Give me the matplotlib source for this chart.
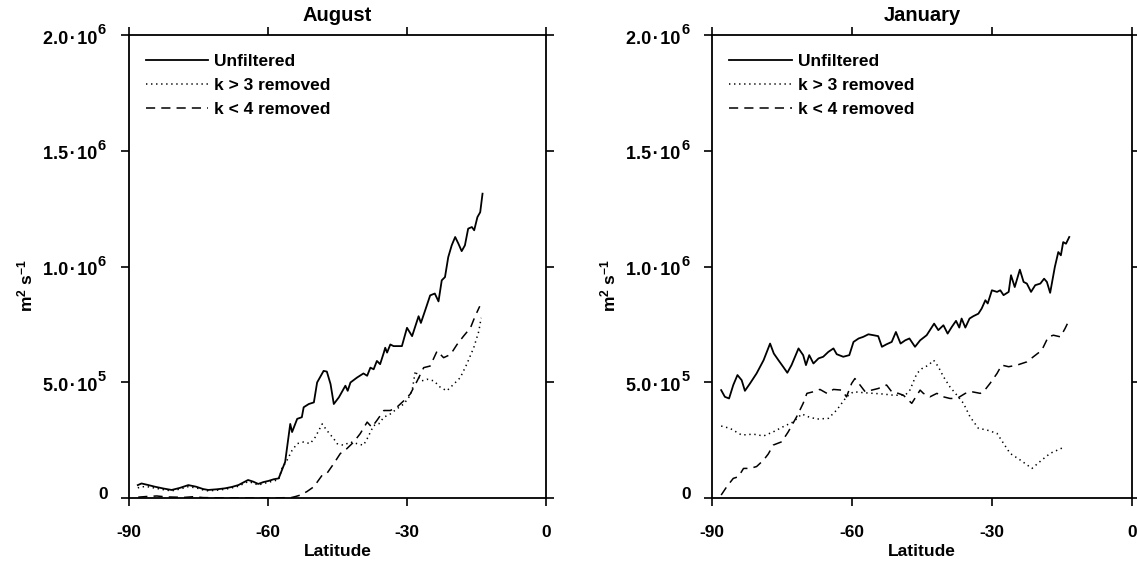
import matplotlib
matplotlib.use("Agg")
import matplotlib.pyplot as plt
from matplotlib.transforms import ScaledTranslation, blended_transform_factory

plt.rcParams['font.family'] = ['Liberation Sans', 'DejaVu Sans']
plt.rcParams['mathtext.fontset'] = 'custom'
plt.rcParams['mathtext.rm'] = 'Liberation Sans:bold'
plt.rcParams['mathtext.default'] = 'rm'

# ---------------- August ----------------
aug_unf_lat = [-88.1, -87.3, -86.0, -84.4, -82.5, -80.8, -79.0, -77.2, -75.5, -74.0,
               -72.9, -71.0, -69.3, -67.8, -66.4, -64.3, -63.2, -62.1, -61.0, -59.9,
               -58.8, -57.7, -56.3, -55.2, -54.8, -53.7, -52.7, -52.3, -51.2, -50.1,
               -49.4, -48.0, -47.3, -46.5, -45.8, -44.7, -43.3, -42.8, -42.2, -40.8,
               -39.4, -38.6, -37.9, -37.2, -36.5, -35.8, -35.0, -34.7, -34.3, -33.6,
               -32.9, -31.1, -30.0, -28.9, -28.2, -27.5, -27.0, -26.0, -25.0, -24.0,
               -23.2, -22.5, -21.8, -21.1, -20.35, -19.6, -18.9, -18.2, -17.5, -16.8,
               -16.0, -15.5, -14.8, -14.2, -13.7]
aug_unf_val = [57e3, 64e3, 58e3, 50e3, 42e3, 36e3, 45e3, 57e3, 50e3, 40e3,
               36e3, 39e3, 43e3, 49e3, 57e3, 79e3, 72e3, 62e3, 70e3, 75e3,
               82e3, 86e3, 157e3, 321e3, 286e3, 343e3, 350e3, 393e3, 407e3, 414e3,
               500e3, 550e3, 547e3, 493e3, 407e3, 436e3, 486e3, 464e3, 500e3, 521e3,
               539e3, 529e3, 564e3, 557e3, 593e3, 579e3, 629e3, 650e3, 629e3, 664e3,
               657e3, 657e3, 736e3, 700e3, 743e3, 786e3, 757e3, 816e3, 876e3, 884e3,
               850e3, 941e3, 955e3, 1041e3, 1092e3, 1128e3, 1099e3, 1067e3, 1092e3, 1164e3,
               1171e3, 1157e3, 1214e3, 1235e3, 1315e3]

aug_k3_lat = [-88.1, -87.3, -86.0, -84.4, -82.5, -80.8, -79.0, -77.2, -75.5, -74.0,
              -72.9, -71.0, -69.3, -67.8, -66.4, -64.3, -63.2, -62.1, -61.0, -59.9,
              -58.8, -57.7, -57.0, -55.9, -54.8, -53.7, -52.3, -50.9, -49.8, -48.3,
              -47.3, -45.8, -45.1, -43.7, -42.2, -40.8, -39.4, -38.6, -37.2, -36.1,
              -35.0, -33.6, -32.2, -30.7, -29.6, -28.9, -28.2, -27.5, -26.8, -25.7,
              -24.2, -22.8, -21.4, -19.9, -18.5, -17.1, -15.6, -14.5, -14.0]
aug_k3_val = [45e3, 50e3, 50e3, 44e3, 37e3, 32e3, 40e3, 50e3, 45e3, 36e3,
              32e3, 35e3, 39e3, 45e3, 52e3, 72e3, 66e3, 57e3, 64e3, 69e3,
              75e3, 80e3, 129e3, 164e3, 207e3, 236e3, 243e3, 236e3, 264e3, 321e3,
              293e3, 257e3, 236e3, 229e3, 243e3, 236e3, 229e3, 257e3, 314e3, 321e3,
              350e3, 364e3, 386e3, 407e3, 436e3, 464e3, 550e3, 521e3, 507e3, 514e3,
              507e3, 479e3, 464e3, 493e3, 521e3, 579e3, 650e3, 721e3, 779e3]

aug_k4_lat = [-88.0, -86.0, -84.0, -82.0, -80.0, -78.0, -76.0, -74.0, -70.0, -66.0,
              -62.0, -58.0, -55.0, -54.0, -53.0, -51.6, -50.1, -48.3, -47.3, -45.8,
              -44.4, -43.0, -41.5, -40.1, -38.6, -37.6, -36.5, -35.0, -33.6, -32.2,
              -30.7, -29.3, -27.8, -26.4, -25.0, -23.5, -22.1, -20.6, -19.2, -17.8,
              -16.3, -15.3, -14.3]
aug_k4_val = [5e3, 8e3, 10e3, 6e3, 5e3, 4e3, 7e3, 3e3, 2e3, 2e3,
              1e3, 2e3, 3e3, 8e3, 14e3, 29e3, 50e3, 100e3, 107e3, 150e3,
              193e3, 214e3, 243e3, 279e3, 329e3, 307e3, 336e3, 379e3, 379e3, 393e3,
              421e3, 450e3, 507e3, 564e3, 571e3, 636e3, 607e3, 621e3, 664e3, 700e3,
              736e3, 786e3, 829e3]

# ---------------- January ----------------
jan_unf_lat = [-88.1, -87.3, -86.4, -85.5, -84.6, -83.7, -83.0, -81.9, -80.5, -79.0,
               -77.6, -76.8, -75.8, -74.8, -73.9, -73.0, -71.5, -70.5, -69.9, -69.2,
               -68.3, -67.2, -66.2, -65.1, -64.0, -63.3, -61.9, -60.6, -59.7, -58.6,
               -57.6, -56.5, -55.4, -54.4, -53.6, -52.6, -51.5, -50.6, -49.6, -48.6,
               -47.7, -46.5, -45.4, -44.0, -42.4, -41.5, -40.4, -39.5, -38.6, -37.7,
               -37.0, -36.5, -35.7, -34.8, -34.0, -32.9, -32.2, -31.4, -30.9, -30.0,
               -28.9, -28.2, -27.5, -26.4, -25.9, -25.1, -24.0, -23.2, -22.5, -21.6,
               -20.7, -19.6, -18.8, -18.2, -17.5, -16.5, -15.75, -15.2, -14.7, -14.1,
               -13.4]
jan_unf_val = [467e3, 438e3, 431e3, 489e3, 532e3, 510e3, 464e3, 496e3, 539e3, 596e3,
               668e3, 625e3, 596e3, 568e3, 542e3, 575e3, 647e3, 618e3, 575e3, 618e3,
               582e3, 604e3, 611e3, 632e3, 647e3, 622e3, 611e3, 618e3, 675e3, 690e3,
               697e3, 708e3, 704e3, 700e3, 654e3, 665e3, 675e3, 718e3, 668e3, 682e3,
               690e3, 654e3, 682e3, 704e3, 754e3, 726e3, 747e3, 711e3, 740e3, 766e3,
               737e3, 776e3, 737e3, 776e3, 786e3, 797e3, 819e3, 855e3, 841e3, 898e3,
               891e3, 898e3, 877e3, 891e3, 963e3, 912e3, 987e3, 934e3, 927e3, 891e3,
               920e3, 927e3, 948e3, 934e3, 887e3, 998e3, 1063e3, 1049e3, 1106e3, 1099e3,
               1128e3]

jan_k3_lat = [-88.1, -86.2, -83.7, -81.2, -79.0, -76.9, -74.8, -72.6, -70.8, -69.4,
              -67.6, -65.1, -63.3, -61.2, -59.7, -57.6, -55.4, -53.3, -51.1, -48.6,
              -47.6, -46.1, -45.0, -43.6, -42.5, -41.5, -40.4, -39.0, -37.5, -36.1,
              -34.7, -32.9, -31.1, -28.9, -27.5, -26.1, -23.9, -21.4, -19.3, -17.5,
              -14.6]
jan_k3_val = [312e3, 302e3, 273e3, 277e3, 269e3, 287e3, 309e3, 330e3, 364e3, 352e3,
              342e3, 345e3, 381e3, 438e3, 460e3, 456e3, 453e3, 450e3, 445e3, 445e3,
              467e3, 539e3, 560e3, 575e3, 596e3, 568e3, 525e3, 481e3, 445e3, 410e3,
              352e3, 302e3, 295e3, 280e3, 237e3, 194e3, 165e3, 129e3, 165e3, 194e3,
              220e3]

jan_k4_lat = [-88.1, -86.9, -85.5, -84.4, -83.3, -81.9, -80.5, -79.0, -78.0, -76.9,
              -75.1, -73.7, -71.9, -70.5, -69.7, -68.3, -66.9, -65.4, -64.0, -62.2,
              -61.2, -60.1, -59.4, -58.3, -57.2, -55.8, -54.4, -52.6, -51.5, -50.1,
              -49.0, -47.2, -45.4, -44.7, -43.3, -41.8, -40.4, -39.0, -37.5, -35.7,
              -34.3, -32.5, -31.8, -30.4, -28.9, -27.9, -26.4, -24.6, -22.5, -21.1,
              -19.3, -17.9, -16.8, -15.3, -14.3, -13.6]
jan_k4_val = [14e3, 50e3, 86e3, 93e3, 129e3, 129e3, 137e3, 165e3, 191e3, 230e3,
              244e3, 287e3, 352e3, 410e3, 453e3, 460e3, 470e3, 453e3, 470e3, 467e3,
              438e3, 496e3, 517e3, 489e3, 460e3, 467e3, 474e3, 489e3, 460e3, 453e3,
              445e3, 410e3, 467e3, 453e3, 438e3, 453e3, 438e3, 431e3, 431e3, 453e3,
              460e3, 453e3, 460e3, 496e3, 539e3, 575e3, 568e3, 575e3, 589e3, 611e3,
              639e3, 697e3, 704e3, 697e3, 733e3, 762e3]

panel_titles = ["August", "January"]
series_labels = ["Unfiltered", "k > 3 removed", "k < 4 removed"]
x_ticks = [-90, -60, -30, 0]
x_ticklabels = ["-90", "-60", "-30", "0"]
y_ticks = [0, 5e5, 1e6, 1.5e6, 2e6]
y_mantissas = ["0", "5.0", "1.0", "1.5", "2.0"]
y_exponents = [None, "5", "6", "6", "6"]

panels = [
    (aug_unf_lat, aug_unf_val, aug_k3_lat, aug_k3_val, aug_k4_lat, aug_k4_val),
    (jan_unf_lat, jan_unf_val, jan_k3_lat, jan_k3_val, jan_k4_lat, jan_k4_val),
]

W, H = 1137, 572
fig = plt.figure(figsize=(W / 100, H / 100), dpi=100)
ax_rects = [
    [129 / W, 1 - 498.3 / H, (546 - 129) / W, (498.3 - 35) / H],
    [712.3 / W, 1 - 498.3 / H, (1131.7 - 712.3) / W, (498.3 - 35) / H],
]

FS = 12.5
PX = 0.72  # points per pixel at 100 dpi


def y_tick_text(ax, value, mantissa, exponent):
    """Write a 'm.m·10^e' tick label to the left of the y axis."""
    base = blended_transform_factory(ax.transAxes, ax.transData)
    if exponent is None:
        tr = base + ScaledTranslation(-21 * PX / 72, 4 * PX / 72, fig.dpi_scale_trans)
        ax.text(0, value, mantissa, transform=tr, ha="right", va="center",
                fontsize=FS, fontweight="bold", clip_on=False)
        return
    tr_m = base + ScaledTranslation(-32 * PX / 72, -4 * PX / 72, fig.dpi_scale_trans)
    ax.text(0, value, mantissa + "\u200a·\u200a10", transform=tr_m, ha="right",
            va="center", fontsize=FS + 0.5, fontweight="bold", clip_on=False)
    tr_e = base + ScaledTranslation(-31 * PX / 72, 5 * PX / 72, fig.dpi_scale_trans)
    ax.text(0, value, exponent, transform=tr_e, ha="left", va="center",
            fontsize=10.5, fontweight="bold", clip_on=False)


for rect, title, data in zip(ax_rects, panel_titles, panels):
    ax = fig.add_axes(rect)
    ulat, uval, k3lat, k3val, k4lat, k4val = data
    ax.plot(ulat, uval, color="black", lw=1.3, label=series_labels[0])
    ax.plot(k3lat, k3val, color="black", lw=1.1, linestyle=(0, (0.9, 2.4)),
            label=series_labels[1])
    ax.plot(k4lat, k4val, color="black", lw=1.1, linestyle=(0, (6.0, 4.0)),
            label=series_labels[2])

    ax.set_xlim(-90, 0)
    ax.set_ylim(0, 2e6)
    ax.set_xticks(x_ticks)
    ax.set_xticklabels(x_ticklabels, fontsize=FS, fontweight="bold")
    ax.set_yticks(y_ticks)
    ax.set_yticklabels([])
    for v, m, e in zip(y_ticks, y_mantissas, y_exponents):
        y_tick_text(ax, v, m, e)
    ax.tick_params(direction="out", length=6, width=1.2, top=True, right=True,
                   color="black")
    ax.tick_params(axis="x", pad=13)
    for sp in ax.spines.values():
        sp.set_linewidth(1.3)

    ax.set_title(title, fontsize=14.5, fontweight="bold", y=1.0, pad=10)
    ax.set_xlabel("Latitude", fontsize=FS, fontweight="bold", labelpad=3)
    ax.set_ylabel(r"m$^{2}$ s$^{-1}$", fontsize=FS, fontweight="bold")
    ax.yaxis.set_label_coords(-0.225, 0.46)

    ax.legend(loc="upper left", bbox_to_anchor=(0.04, 0.96), frameon=False,
              borderpad=0, borderaxespad=0, handlelength=3.6,
              handletextpad=0.35, labelspacing=0.52,
              prop={"size": FS, "weight": "bold"})

fig.savefig("out.png", dpi=100)
